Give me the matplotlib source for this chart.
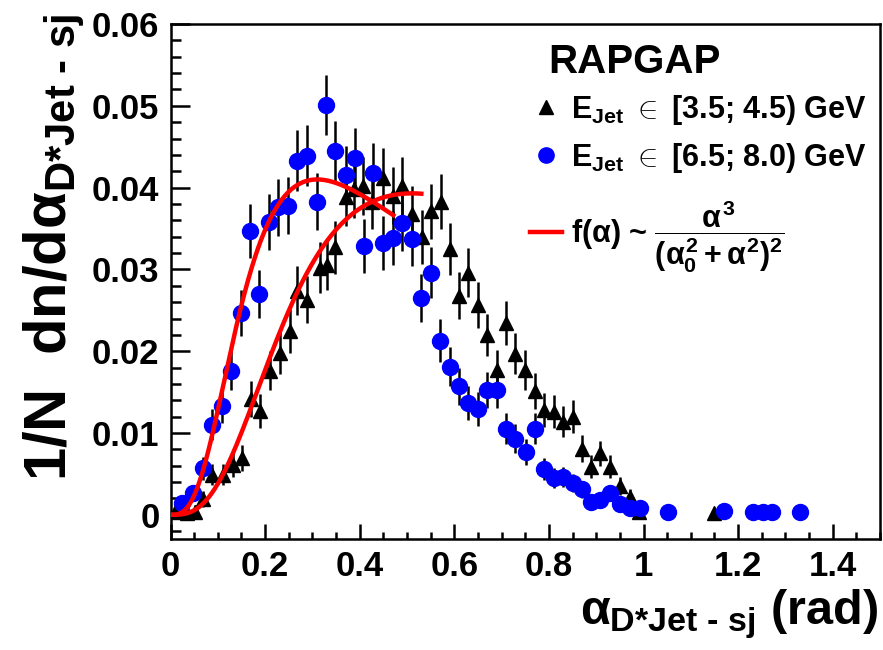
import numpy as np
import matplotlib
matplotlib.use("Agg")
import matplotlib.pyplot as plt
from matplotlib.lines import Line2D
from matplotlib.ticker import MultipleLocator, FuncFormatter

plt.rcParams['font.family'] = ['Liberation Sans', 'DejaVu Sans']
plt.rcParams['font.weight'] = 'bold'
plt.rcParams['mathtext.fontset'] = 'custom'
plt.rcParams['mathtext.rm'] = 'Liberation Sans:bold'
plt.rcParams['mathtext.bf'] = 'Liberation Sans:bold'
plt.rcParams['mathtext.it'] = 'Liberation Sans:bold'
plt.rcParams['mathtext.sf'] = 'Liberation Sans:bold'

# ---- data: E_Jet in [3.5; 4.5) GeV (black triangles) ----
alpha_low = [0.010, 0.034, 0.052, 0.069, 0.087, 0.112, 0.133, 0.151, 0.170, 0.190,
             0.211, 0.232, 0.253, 0.267, 0.288, 0.317, 0.331, 0.348, 0.370, 0.387,
             0.408, 0.426, 0.449, 0.470, 0.490, 0.511, 0.532, 0.550, 0.571, 0.590,
             0.609, 0.629, 0.650, 0.670, 0.691, 0.710, 0.729, 0.749, 0.770, 0.789,
             0.811, 0.830, 0.851, 0.871, 0.890, 0.909, 0.929, 0.950, 0.971, 0.991,
             1.149]
dens_low = [0.0003, 0.0002, 0.0004, 0.0019, 0.0049, 0.0049, 0.0061, 0.0069, 0.0141, 0.0127,
            0.0176, 0.0198, 0.0225, 0.0274, 0.0263, 0.0302, 0.0306, 0.0327, 0.0388, 0.0398,
            0.0402, 0.0383, 0.0412, 0.0390, 0.0402, 0.0368, 0.0340, 0.0371, 0.0383, 0.0325,
            0.0268, 0.0296, 0.0257, 0.0220, 0.0177, 0.0234, 0.0197, 0.0177, 0.0151, 0.0128,
            0.0126, 0.0114, 0.0120, 0.0081, 0.0059, 0.0075, 0.0059, 0.0035, 0.0022, 0.0004,
            0.0002]
err_low = [0.0007, 0.0007, 0.0008, 0.0010, 0.0013, 0.0013, 0.0015, 0.0016, 0.0022, 0.0021,
           0.0024, 0.0026, 0.0027, 0.0030, 0.0029, 0.0031, 0.0031, 0.0032, 0.0035, 0.0035,
           0.0035, 0.0034, 0.0036, 0.0035, 0.0035, 0.0034, 0.0033, 0.0034, 0.0034, 0.0032,
           0.0029, 0.0030, 0.0028, 0.0026, 0.0024, 0.0027, 0.0025, 0.0024, 0.0022, 0.0021,
           0.0020, 0.0019, 0.0020, 0.0016, 0.0014, 0.0015, 0.0014, 0.0011, 0.0009, 0.0005,
           0.0004]

# ---- data: E_Jet in [6.5; 8.0) GeV (blue circles) ----
alpha_high = [0.024, 0.048, 0.069, 0.087, 0.108, 0.127, 0.149, 0.168, 0.188, 0.209,
              0.228, 0.249, 0.267, 0.288, 0.310, 0.329, 0.348, 0.370, 0.389, 0.410,
              0.428, 0.449, 0.470, 0.490, 0.510, 0.529, 0.550, 0.569, 0.590, 0.609,
              0.629, 0.650, 0.670, 0.691, 0.710, 0.729, 0.751, 0.770, 0.789, 0.811,
              0.830, 0.851, 0.871, 0.890, 0.909, 0.929, 0.950, 0.971, 0.992, 1.051,
              1.171, 1.231, 1.252, 1.271, 1.331]
dens_high = [0.0014, 0.0027, 0.0057, 0.0110, 0.0133, 0.0176, 0.0247, 0.0347, 0.0270, 0.0358,
             0.0376, 0.0378, 0.0433, 0.0439, 0.0383, 0.0501, 0.0445, 0.0415, 0.0436, 0.0329,
             0.0418, 0.0332, 0.0338, 0.0357, 0.0337, 0.0265, 0.0296, 0.0213, 0.0181, 0.0157,
             0.0137, 0.0129, 0.0153, 0.0152, 0.0105, 0.0093, 0.0077, 0.0105, 0.0056, 0.0045,
             0.0046, 0.0039, 0.0031, 0.0016, 0.0018, 0.0027, 0.0013, 0.0008, 0.0008, 0.0004,
             0.0005, 0.0003, 0.0003, 0.0003, 0.0003]
err_high = [0.0008, 0.0010, 0.0014, 0.0019, 0.0021, 0.0024, 0.0028, 0.0033, 0.0029, 0.0034,
            0.0035, 0.0035, 0.0037, 0.0037, 0.0035, 0.0037, 0.0037, 0.0036, 0.0037, 0.0033,
            0.0036, 0.0033, 0.0033, 0.0034, 0.0033, 0.0029, 0.0031, 0.0026, 0.0024, 0.0023,
            0.0021, 0.0021, 0.0022, 0.0022, 0.0019, 0.0018, 0.0016, 0.0019, 0.0014, 0.0012,
            0.0012, 0.0011, 0.0010, 0.0007, 0.0008, 0.0009, 0.0007, 0.0005, 0.0005, 0.0004,
            0.0004, 0.0003, 0.0003, 0.0003, 0.0003]

# ---- fit parameters f(a) ~ a^3/(a0^2+a^2)^2 ----
fit_low_alpha0 = 0.295
fit_low_peak = 0.0393
fit_low_xmax = 0.535
fit_high_alpha0 = 0.179
fit_high_peak = 0.0410
fit_high_xmax = 0.475

x_ticks = [0, 0.2, 0.4, 0.6, 0.8, 1.0, 1.2, 1.4]
y_ticks = [0, 0.01, 0.02, 0.03, 0.04, 0.05, 0.06]


def fitfunc(a, a0, peak):
    norm = peak * a0 / (3 * np.sqrt(3) / 16)
    return norm * a**3 / (a0**2 + a**2)**2


fig = plt.figure(figsize=(8.83, 6.5), dpi=100)
ax = fig.add_axes([0.1931, 0.1715, 0.8035, 0.7915])

ax.errorbar(alpha_low, dens_low, yerr=err_low, fmt='^', color='black', ms=10.5,
            elinewidth=1.8, capsize=0, zorder=3)
ax.errorbar(alpha_high, dens_high, yerr=err_high, fmt='o', color='#0000ff', ms=11.5,
            ecolor='black', elinewidth=1.8, capsize=0, zorder=4)

for a0, pk, xm in [(fit_low_alpha0, fit_low_peak, fit_low_xmax),
                   (fit_high_alpha0, fit_high_peak, fit_high_xmax)]:
    xx = np.linspace(0, xm, 300)
    ax.plot(xx, fitfunc(xx, a0, pk), color='#ff0000', lw=3.2, zorder=5,
            solid_capstyle='butt')

ax.set_xlim(0, 1.5)
ax.set_ylim(-0.0029, 0.06)
ax.set_xticks(x_ticks)
ax.set_yticks(y_ticks)
ax.xaxis.set_minor_locator(MultipleLocator(0.05))
ax.yaxis.set_minor_locator(MultipleLocator(0.002))
fmt = FuncFormatter(lambda v, p: ('%g' % round(v, 4)))
ax.xaxis.set_major_formatter(fmt)
ax.yaxis.set_major_formatter(fmt)

ax.tick_params(axis='both', which='both', direction='in', top=False, right=False,
               labelsize=25, width=1.8)
ax.tick_params(axis='x', which='major', length=11, pad=8)
ax.tick_params(axis='x', which='minor', length=5)
ax.tick_params(axis='y', which='major', length=14, pad=8)
ax.tick_params(axis='y', which='minor', length=7)
for lab in ax.get_xticklabels() + ax.get_yticklabels():
    lab.set_fontweight('bold')
for s in ax.spines.values():
    s.set_linewidth(1.8)

ax.set_ylabel(r'1/N  dn/d$\alpha_{\text{D*Jet - sj}}$', fontsize=43,
              fontweight='bold', loc='top')
ax.yaxis.set_label_coords(-0.118, 1.02)
ax.set_xlabel(r'$\alpha_{\text{D*Jet - sj}}$ (rad)', fontsize=35,
              fontweight='bold', loc='right')
ax.xaxis.set_label_coords(0.997, -0.095)

ax.text(0.532, 0.905, 'RAPGAP', transform=ax.transAxes, fontsize=29,
        fontweight='bold', va='baseline', ha='left')

handles = [Line2D([], [], marker='^', color='black', ls='none', ms=10),
           Line2D([], [], marker='o', color='#0000ff', ls='none', ms=11)]
labels = [r'$\mathrm{E_{Jet}}$ $\in$ [3.5; 4.5) GeV',
          r'$\mathrm{E_{Jet}}$ $\in$ [6.5; 8.0) GeV']
leg = ax.legend(handles, labels, loc='upper left', bbox_to_anchor=(0.5067, 0.866),
                frameon=False, fontsize=22, handlelength=1.05, handletextpad=0.3,
                labelspacing=0.45, borderaxespad=0, borderpad=0)
for t in leg.get_texts():
    t.set_fontweight('bold')
ax.add_artist(leg)

leg2 = ax.legend([Line2D([], [], color='#ff0000', lw=3.2)],
                 [r'f($\alpha$) ~ $\dfrac{\alpha^3}{(\alpha_0^2+\alpha^2)^2}$'],
                 loc='center left', bbox_to_anchor=(0.5067, 0.587),
                 frameon=False, fontsize=22, handlelength=1.05, handletextpad=0.3,
                 borderaxespad=0, borderpad=0)
for t in leg2.get_texts():
    t.set_fontweight('bold')

fig.savefig('out.png', dpi=100)
